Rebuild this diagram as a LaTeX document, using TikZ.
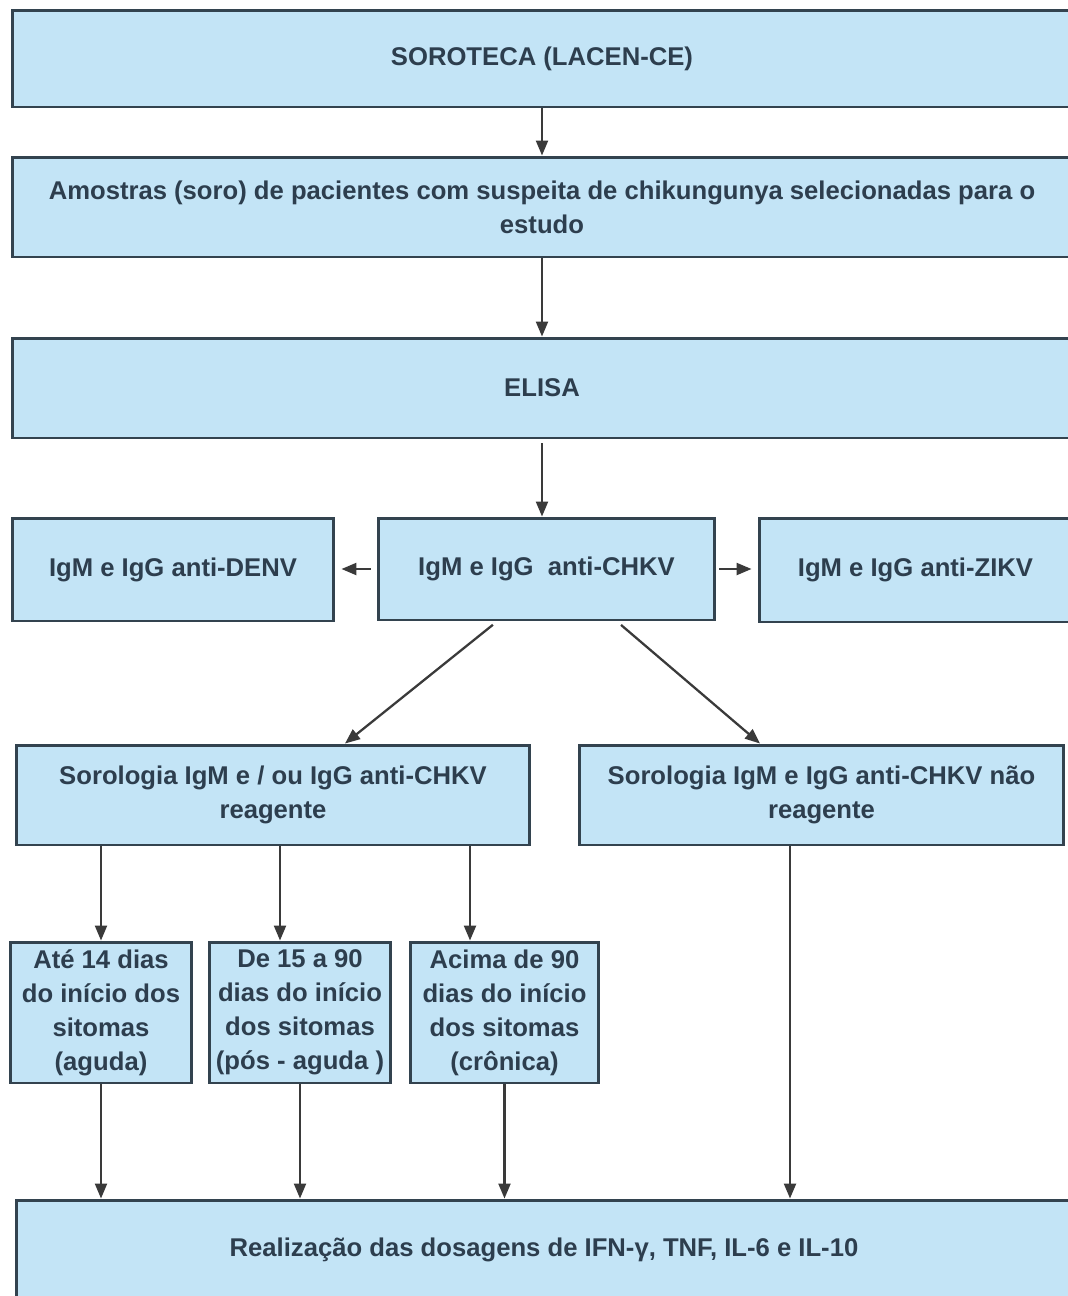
\documentclass[tikz,border=0pt]{standalone}
\usepackage{fontspec}
\setmainfont{Liberation Sans}
\usetikzlibrary{arrows.meta,calc}
\definecolor{boxfill}{HTML}{C3E4F6}
\definecolor{boxline}{HTML}{33434F}
\definecolor{boxtext}{HTML}{2D3E4E}
\definecolor{arrline}{HTML}{3A3A3A}
\tikzset{
  box/.style={draw=boxline, fill=boxfill, line width=1.7pt, text=boxtext,
    font=\bfseries\fontsize{14.6}{19.3}\selectfont, align=center, inner sep=0pt},
  arr/.style={draw=arrline, line width=1.3pt, -{Triangle[length=0.3cm,width=0.24cm]}},
}

\begin{document}
\begin{tikzpicture}[x=0.02cm,y=-0.02cm]
\useasboundingbox (0,0) rectangle (1068,1296);
\clip (0,0) rectangle (1068,1296);
% main column
\node[box, minimum width=21.2cm, minimum height=1.94cm] (soro) at (542,58.5) {SOROTECA (LACEN-CE)};
\node[box, minimum width=21.2cm, minimum height=2cm] (amo) at (542,207)
  {Amostras (soro) de pacientes com suspeita de chikungunya selecionadas para o\\estudo};
\node[box, minimum width=21.2cm, minimum height=2cm] (elisa) at (542,388) {ELISA};
% antibody row
\node[box, minimum width=6.44cm, minimum height=2.06cm] (denv) at (173,569.5) {IgM e IgG anti-DENV};
\node[box, minimum width=6.74cm, minimum height=2.04cm] (chkv) at (546.5,569) {IgM e IgG\ \ anti-CHKV};
\node[box, minimum width=6.26cm, minimum height=2.08cm] (zikv) at (915.5,570) {IgM e IgG anti-ZIKV};
% serology
\node[box, minimum width=10.28cm, minimum height=2cm] (sorL) at (273,795)
  {Sorologia IgM e / ou IgG anti-CHKV\\reagente};
\node[box, minimum width=9.7cm, minimum height=2cm] (sorR) at (821.5,795)
  {Sorologia IgM e IgG anti-CHKV não\\reagente};
% phases
\node[box, minimum width=3.64cm, minimum height=2.82cm] (ate) at (101,1012.5)
  {Até 14 dias\\do início dos\\sitomas\\(aguda)};
\node[box, minimum width=3.64cm, minimum height=2.82cm] (de) at (300,1012.5)
  {De 15 a 90\\dias do início\\dos sitomas\\(pós - aguda )};
\node[box, minimum width=3.78cm, minimum height=2.82cm] (acima) at (504.5,1012.5)
  {Acima de 90\\dias do início\\dos sitomas\\(crônica)};
% final step
\node[box, minimum width=21.12cm, minimum height=2cm] (bot) at (544,1250)
  {Realização das dosagens de IFN-γ, TNF, IL-6 e IL-10};

% connectors
\draw[arr] (soro.south) -- (amo.north);
\draw[arr] (amo.south) -- (elisa.north);
\draw[arr, shorten <=2pt] (elisa.south) -- (elisa.south |- chkv.north);
\draw[arr, shorten <=0.12cm, shorten >=0.12cm] (chkv.west) -- (chkv.west -| denv.east);
\draw[arr, shorten <=0.06cm, shorten >=0.12cm] (chkv.east) -- (chkv.east -| zikv.west);
\draw[arr, shorten <=3pt] ([xshift=-0.99cm]chkv.south) -- ([xshift=1.44cm]sorL.north);
\draw[arr, shorten <=3pt] ([xshift=1.41cm]chkv.south) -- ([xshift=-1.23cm]sorR.north);
\coordinate (t1) at ([xshift=-0.4cm]de.north);
\coordinate (t2) at ([xshift=-0.69cm]acima.north);
\coordinate (t3) at ([xshift=-0.63cm]sorR.south);
\draw[arr] (ate.north |- sorL.south) -- (ate.north);
\draw[arr] (t1 |- sorL.south) -- (t1);
\draw[arr] (t2 |- sorL.south) -- (t2);
\draw[arr] (ate.south) -- (ate.south |- bot.north);
\draw[arr] (de.south) -- (de.south |- bot.north);
\draw[arr] (acima.south) -- (acima.south |- bot.north);
\draw[arr] (t3) -- (t3 |- bot.north);
\end{tikzpicture}
\end{document}
